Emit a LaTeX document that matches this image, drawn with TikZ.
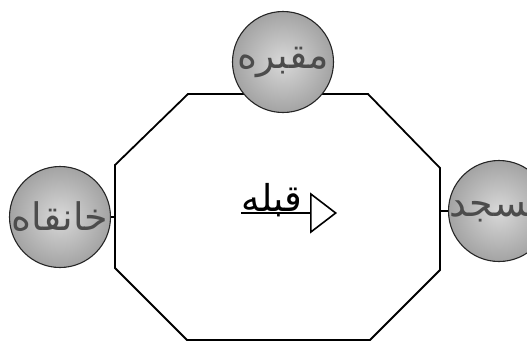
\documentclass[tikz,border=0pt]{standalone}
\usepackage{fontspec}
\newfontfamily\arabicfont[Script=Arabic]{DejaVu Sans}
\TeXXeTstate=1
\usetikzlibrary{arrows.meta, positioning, shapes.geometric}

\begin{document}
\begin{tikzpicture}[
  x=1pt, y=-1pt,
  wall/.style={draw, line width=1.8pt, line join=miter},
  place/.style={draw=black!85, circle, minimum size=101pt, inner sep=0pt, line width=1.1pt,
    shading=radial, inner color=gray!30, outer color=gray!72,
    path picture={\node[placetext] at (path picture bounding box.center) {\beginR #1\endR};}},
  placetext/.style={font=\fontsize{38}{40}\selectfont\arabicfont, text=black!70}
]
  \useasboundingbox (0,0) rectangle (527,341);
  \clip (0,0) rectangle (527,341);

  % hall
  \draw[wall] (188,94) -- (368,94) -- (440,168) -- (440,270) -- (370,340)
    -- (187,340) -- (115,268) -- (115,165) -- cycle;
  \coordinate (hallW) at (115,217);
  \coordinate (hallE) at (440,211);

  \node[place=مقبره] (maqbara) at (283,62) {};
  \node[place=خانقاه] (khanqah) at (60,217) {};
  \node[place=مسجد] (masjid) at (499,211) {};
  \draw[wall] (khanqah.east) -- (hallW);
  \draw[wall] (hallE) -- (masjid.west);

  % qibla
  \node[font=\fontsize{37}{40}\selectfont\arabicfont, anchor=base, inner sep=0pt] (qibla) at (272,211) {\beginR قبله\endR};
  \coordinate (qiblaTip) at (337,213);
  \draw[line width=1.6pt, -{Triangle[open, length=27pt, width=41pt, line width=1.6pt]}] (qibla.base west |- qiblaTip) -- (qiblaTip);
\end{tikzpicture}
\end{document}
